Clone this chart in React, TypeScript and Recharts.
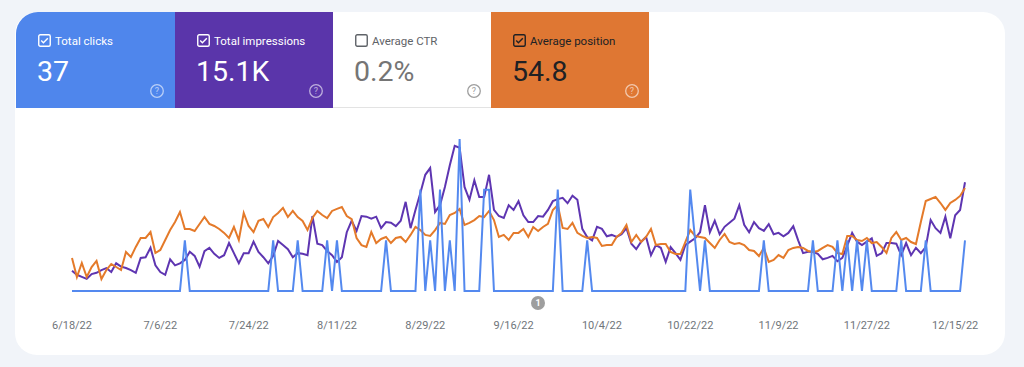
import React from 'react'
import { LineChart, Line, XAxis, YAxis } from 'recharts'

// daily values 6/18/22 .. 12/17/22
const CLICKS = [
  0, 0, 0, 0, 0, 0, 0, 0, 0, 0,
  0, 0, 0, 0, 0, 0, 0, 0, 0, 0,
  0, 0, 0, 1, 0, 0, 0, 0, 0, 0,
  0, 0, 0, 0, 0, 0, 0, 0, 0, 0,
  0, 1, 0, 0, 0, 0, 1, 0, 0, 0,
  0, 0, 1, 0, 1, 0, 0, 0, 0, 0,
  0, 0, 0, 0, 1, 0, 0, 0, 0, 0,
  0, 2, 0, 1, 0, 2, 0, 1, 0, 3,
  0, 0, 0, 0, 2, 2, 0, 0, 0, 0,
  0, 0, 0, 0, 0, 0, 0, 0, 0, 2,
  0, 0, 0, 0, 0, 1, 0, 0, 0, 0,
  0, 0, 0, 0, 0, 0, 0, 0, 0, 0,
  0, 0, 0, 0, 0, 0, 2, 1, 0, 1,
  0, 0, 0, 0, 0, 0, 0, 0, 0, 0,
  0, 1, 0, 0, 0, 0, 0, 0, 0, 0,
  0, 1, 0, 0, 0, 0, 1, 0, 1, 0,
  1, 0, 1, 0, 0, 0, 0, 0, 0, 1,
  0, 0, 0, 0, 1, 0, 0, 0, 0, 0,
  0, 0, 1,
]

const IMPRESSIONS = [
  30, 24, 21, 18, 25, 27, 31, 34, 28, 41,
  36, 34, 31, 27, 49, 50, 64, 38, 28, 24,
  47, 38, 41, 46, 58, 52, 36, 59, 64, 55,
  49, 53, 71, 56, 41, 56, 56, 73, 58, 50,
  41, 52, 74, 68, 62, 50, 56, 55, 53, 111,
  70, 68, 59, 53, 43, 50, 87, 104, 89, 111,
  110, 107, 110, 93, 102, 101, 96, 104, 132, 93,
  120, 145, 172, 182, 117, 127, 154, 186, 215, 212,
  154, 135, 164, 139, 139, 172, 120, 111, 108, 127,
  120, 133, 112, 102, 102, 111, 110, 120, 133, 136,
  138, 130, 141, 135, 92, 80, 75, 95, 92, 81,
  83, 80, 84, 93, 70, 62, 73, 80, 53, 68,
  64, 43, 65, 56, 46, 68, 73, 78, 87, 127,
  87, 104, 84, 95, 101, 107, 127, 98, 87, 102,
  93, 89, 99, 84, 86, 81, 86, 96, 75, 56,
  58, 58, 55, 47, 49, 52, 44, 49, 67, 86,
  73, 68, 73, 78, 52, 56, 71, 71, 70, 53,
  71, 53, 64, 56, 65, 105, 93, 86, 110, 78,
  112, 120, 161,
]

const POSITION = [
  70.4, 81.7, 73.4, 81.7, 75.8, 72.2, 82.9, 77.6, 74.0, 75.8,
  77.6, 66.9, 69.9, 63.9, 58.6, 58.6, 55.1, 67.5, 65.7, 59.8,
  53.9, 49.1, 43.2, 53.3, 53.3, 54.5, 50.3, 46.2, 50.3, 51.5,
  53.3, 55.6, 58.6, 52.1, 59.8, 43.8, 51.5, 55.1, 48.5, 47.4,
  52.1, 46.2, 43.8, 40.8, 46.2, 42.6, 46.2, 48.5, 53.9, 46.8,
  42.6, 45.0, 46.8, 42.6, 41.4, 40.3, 45.6, 47.4, 58.6, 62.8,
  63.9, 55.1, 61.6, 59.2, 58.0, 61.6, 58.6, 58.0, 61.0, 56.8,
  52.1, 53.9, 56.8, 57.4, 53.9, 49.7, 50.3, 45.0, 43.8, 41.4,
  50.9, 49.7, 48.0, 45.6, 46.2, 42.6, 48.0, 58.0, 56.8, 59.8,
  55.6, 55.6, 53.3, 58.0, 52.1, 54.5, 52.1, 50.3, 42.0, 39.1,
  52.7, 53.3, 49.7, 55.6, 57.4, 58.6, 58.0, 58.6, 63.3, 62.8,
  62.8, 58.0, 55.6, 50.9, 61.0, 56.8, 61.0, 58.0, 53.3, 62.8,
  62.2, 62.2, 66.9, 68.1, 68.1, 61.0, 53.9, 57.4, 58.0, 58.6,
  61.6, 64.5, 59.8, 56.2, 61.0, 62.2, 61.6, 62.8, 65.7, 66.3,
  69.3, 64.5, 72.8, 71.6, 68.7, 70.4, 65.7, 64.5, 63.9, 64.5,
  66.3, 66.9, 66.3, 64.5, 62.8, 63.9, 67.5, 68.1, 57.4, 57.4,
  59.8, 60.4, 58.6, 61.6, 61.0, 63.9, 67.5, 58.6, 55.1, 59.8,
  58.6, 61.0, 62.2, 49.1, 36.7, 35.5, 34.3, 37.9, 42.0, 37.9,
  36.1, 33.7, 29.0,
]

const TICKS = ['6/18/22', '7/6/22', '7/24/22', '8/11/22', '8/29/22', '9/16/22', '10/4/22', '10/22/22', '11/9/22', '11/27/22', '12/15/22']

const START = Date.UTC(2022, 5, 18)
const DATES = CLICKS.map((_, i) => {
  const d = new Date(START + i * 86400000)
  return `${d.getUTCMonth() + 1}/${d.getUTCDate()}/${String(d.getUTCFullYear()).slice(2)}`
})

const data = DATES.map((date, i) => ({
  date,
  clicks: CLICKS[i],
  impressions: IMPRESSIONS[i],
  position: POSITION[i],
}))

const FONT = 'Roboto, "Noto Sans", Arial, sans-serif'

function CheckBox({ checked, color }: { checked: boolean; color: string }) {
  return (
    <svg width={13} height={13} style={{ position: 'absolute', left: 22, top: 22 }}>
      <rect x={0.75} y={0.75} width={11.5} height={11.5} rx={1.5} fill="none" stroke={color} strokeWidth={1.4} />
      {checked && <path d="M3.2 6.6 L5.4 8.8 L9.8 4.2" fill="none" stroke={color} strokeWidth={1.4} />}
    </svg>
  )
}

function HelpIcon({ color }: { color: string }) {
  return (
    <svg width={16} height={16} style={{ position: 'absolute', left: 133, top: 71 }}>
      <circle cx={8} cy={8} r={6.3} fill="none" stroke={color} strokeWidth={1.3} />
      <text x={8} y={11.2} textAnchor="middle" fontSize={9} fontFamily={FONT} fill={color}>?</text>
    </svg>
  )
}

interface TileProps {
  left: number
  width: number
  label: string
  value: string
  bg: string
  fg: string
  valueColor: string
  helpColor: string
  checked: boolean
  round?: boolean
  border?: boolean
}

function Tile(p: TileProps) {
  return (
    <div
      style={{
        position: 'absolute',
        left: p.left,
        top: 12,
        width: p.width,
        height: 96,
        background: p.bg,
        borderTopLeftRadius: p.round ? 22 : 0,
        boxSizing: 'border-box',
        borderBottom: p.border ? '1px solid #e3e3e3' : 'none',
        fontFamily: FONT,
      }}
    >
      <CheckBox checked={p.checked} color={p.fg} />
      <div style={{ position: 'absolute', left: 39, top: 23.5, fontSize: 11.5, lineHeight: '11.5px', color: p.fg, whiteSpace: 'nowrap' }}>
        {p.label}
      </div>
      <div style={{ position: 'absolute', left: 21, top: 46, fontSize: 28.5, lineHeight: '28.5px', color: p.valueColor, whiteSpace: 'nowrap' }}>
        {p.value}
      </div>
      <HelpIcon color={p.helpColor} />
    </div>
  )
}

export default function App() {
  return (
    <div style={{ position: 'absolute', left: 0, top: 0, width: 1024, height: 367, background: '#f1f4f9', overflow: 'hidden' }}>
      <div style={{ position: 'absolute', left: 15, top: 12, width: 990, height: 343, background: '#ffffff', borderRadius: 22 }} />
      <Tile left={16} width={159} round label="Total clicks" value="37" bg="#4f86ec" fg="#ffffff" valueColor="#ffffff" helpColor="rgba(255,255,255,0.6)" checked />
      <Tile left={175} width={158} label="Total impressions" value="15.1K" bg="#5a35aa" fg="#ffffff" valueColor="#ffffff" helpColor="rgba(255,255,255,0.6)" checked />
      <Tile left={333} width={158} label="Average CTR" value="0.2%" bg="#ffffff" fg="#5f6368" valueColor="#757575" helpColor="#9e9e9e" checked={false} border />
      <Tile left={491} width={158} label="Average position" value="54.8" bg="#df7733" fg="#202124" valueColor="#202124" helpColor="rgba(255,255,255,0.6)" checked />

      <div style={{ position: 'absolute', left: 0, top: 0 }}>
        <LineChart width={1024} height={367} data={data} margin={{ top: 139, right: 59, bottom: 36, left: 72 }}>
          <XAxis
            dataKey="date"
            ticks={TICKS}
            interval={0}
            axisLine={false}
            tickLine={false}
            height={40}
            tickMargin={24}
            tick={{ fill: '#70757a', fontSize: 11, fontFamily: FONT }}
          />
          <YAxis yAxisId="clicks" hide domain={[0, 3]} />
          <YAxis yAxisId="impressions" hide domain={[0, 225]} />
          <YAxis yAxisId="position" hide domain={[0, 90]} reversed />
          <Line yAxisId="impressions" dataKey="impressions" type="linear" stroke="#5e35b1" strokeWidth={2} dot={false} isAnimationActive={false} />
          <Line yAxisId="position" dataKey="position" type="linear" stroke="#e47a2a" strokeWidth={2} dot={false} isAnimationActive={false} />
          <Line yAxisId="clicks" dataKey="clicks" type="linear" stroke="#5489ef" strokeWidth={2} dot={false} isAnimationActive={false} />
        </LineChart>
      </div>

      <div
        style={{
          position: 'absolute',
          left: 531,
          top: 296,
          width: 14,
          height: 14,
          borderRadius: 7,
          background: '#9e9e9e',
          color: '#ffffff',
          fontFamily: FONT,
          fontSize: 9,
          fontWeight: 700,
          lineHeight: '14px',
          textAlign: 'center',
        }}
      >
        1
      </div>
    </div>
  )
}
